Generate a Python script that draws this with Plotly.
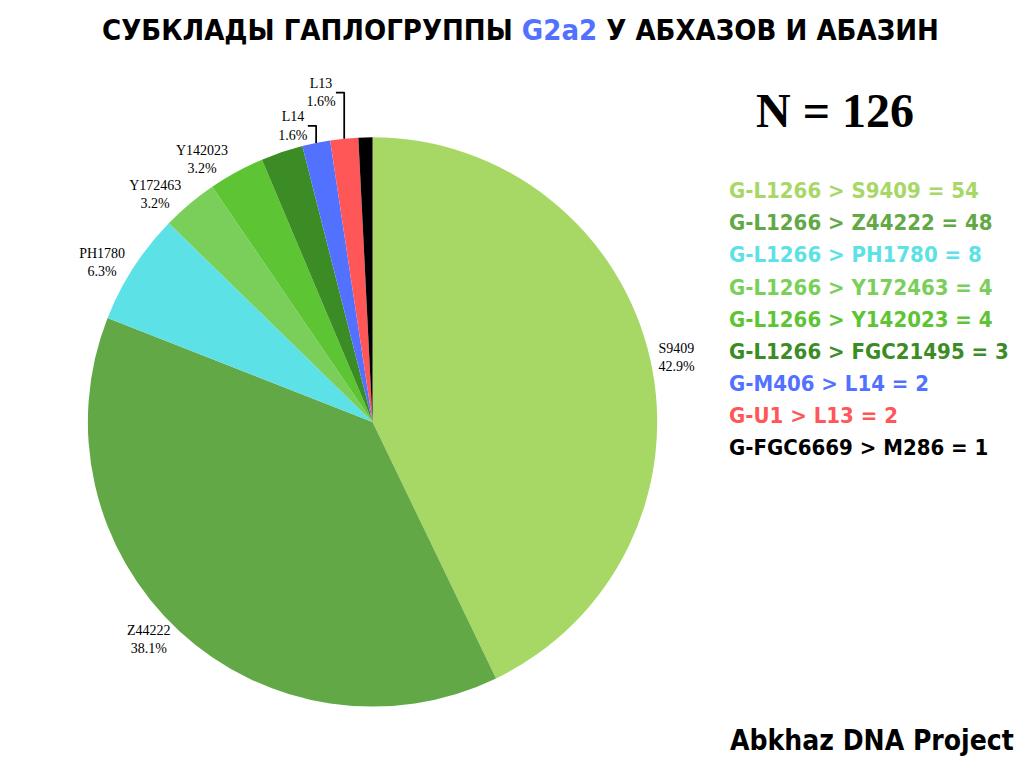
import plotly.graph_objects as go

labels = ["S9409", "Z44222", "PH1780", "Y172463", "Y142023", "FGC21495", "L14", "L13", "M286"]
parents = ["G-L1266", "G-L1266", "G-L1266", "G-L1266", "G-L1266", "G-L1266", "G-M406", "G-U1", "G-FGC6669"]
counts = [54, 48, 8, 4, 4, 3, 2, 2, 1]
colors = ["#A7D866", "#62A846", "#5CE1E6", "#7ACF5A", "#5DC533", "#3C8C25", "#5271FF", "#FF5757", "#000000"]
show_label = [True, True, True, True, True, False, True, True, False]

total = sum(counts)

fig = go.Figure()

fig.add_trace(go.Pie(
    labels=labels,
    values=counts,
    sort=False,
    direction="clockwise",
    rotation=0,
    marker=dict(colors=colors, line=dict(width=0)),
    textposition="outside",
    texttemplate=["%{label}<br>%{percent:.1%}" if s else "" for s in show_label],
    textfont=dict(family="Liberation Serif", size=14, color="black"),
    showlegend=False,
    domain=dict(x=[0.078, 0.634], y=[0.090, 0.832]),
))

head = "DejaVu Sans Condensed"
annotations = [
    dict(x=0.5, y=0.972, text="<b>СУБКЛАДЫ ГАПЛОГРУППЫ <span style='color:#5271FF'>G2a2</span> У АБХАЗОВ И АБАЗИН</b>",
         font=dict(family=head, size=29, color="black")),
    dict(x=0.808, y=0.867, text="<b>N = %d</b>" % total,
         font=dict(family="Liberation Serif", size=48, color="black")),
    dict(x=0.984, y=0.046, text="<b>Abkhaz DNA Project</b>", xanchor="right",
         font=dict(family=head, size=28, color="black")),
]

# custom coloured legend on the right
for i, (p, lab, c, col) in enumerate(zip(parents, labels, counts, colors)):
    annotations.append(dict(
        x=0.702, y=0.762 - i * 0.0418, xanchor="left",
        text="<b>%s &gt; %s = %d</b>" % (p, lab, c),
        font=dict(family=head, size=22, color=col),
    ))

for a in annotations:
    a.update(xref="paper", yref="paper", showarrow=False)
    a.setdefault("xanchor", "center")
    a["yanchor"] = "middle"

fig.update_layout(
    width=1024,
    height=768,
    margin=dict(l=0, r=0, t=0, b=0),
    paper_bgcolor="white",
    plot_bgcolor="white",
    annotations=annotations,
)

fig.write_html("out.html")
